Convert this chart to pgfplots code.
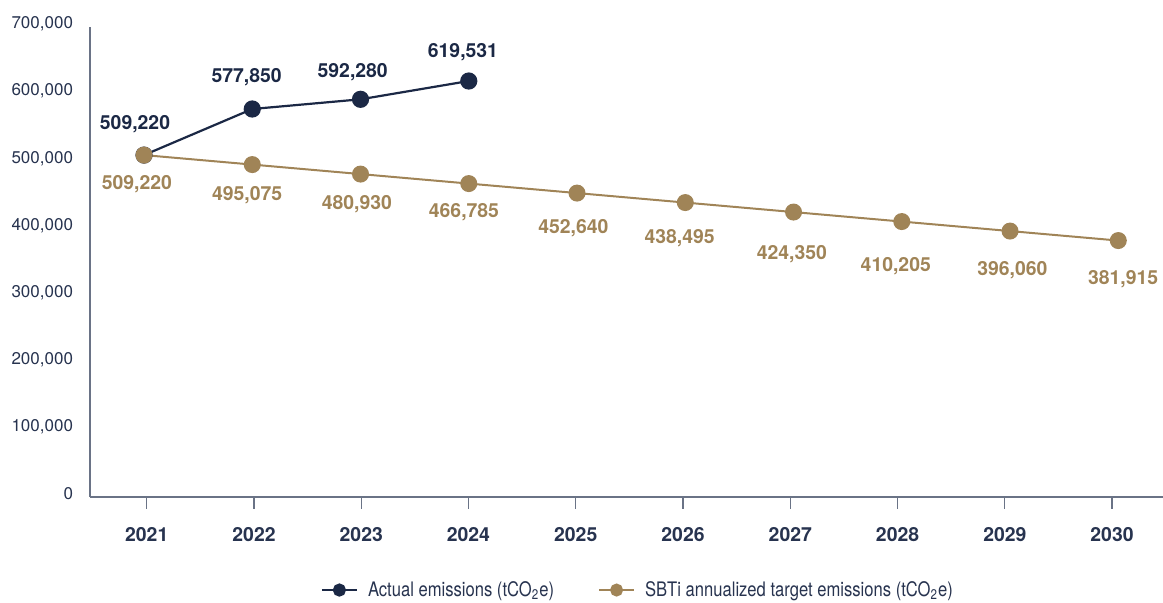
\documentclass[border=0pt]{standalone}
\usepackage{fontspec}
\setmainfont{TeX Gyre Heros}
\newfontfamily\legfont[FakeStretch=0.83]{TeX Gyre Heros}
\usepackage{pgfplots}
\pgfplotsset{compat=1.18}
\definecolor{navy}{HTML}{1B2845}
\definecolor{gold}{HTML}{A08457}
\definecolor{axisgray}{HTML}{6A7386}
\definecolor{ticktext}{HTML}{27334F}
\begin{document}
\begin{tikzpicture}
\useasboundingbox (0,0) rectangle (581.5pt,301.5pt);
\begin{axis}[
  at={(45pt,53pt)}, anchor=south west,
  scale only axis, width=536.5pt, height=235pt,
  xmin=2020.501, xmax=2030.413, ymin=0, ymax=700000,
  clip=false,
  axis x line=bottom, axis y line=left,
  axis line style={-, axisgray, line width=0.6pt},
  xtick={2021.025,2022.016,2023.007,2023.997,2024.988,2025.979,2026.970,2027.961,2028.952,2029.942},
  xticklabels={2021,2022,2023,2024,2025,2026,2027,2028,2029,2030},
  tick align=outside,
  xtick style={axisgray, line width=0.6pt},
  major tick length=6pt,
  x tick label style={font=\fontsize{9.7}{11}\selectfont\bfseries, text=ticktext, yshift=-5.5pt},
  ytick={0,100000,200000,300000,400000,500000,600000,700000},
  ytick style={draw=none},
  scaled y ticks=false,
  y tick label style={/pgf/number format/fixed, /pgf/number format/1000 sep={,}, /pgf/number format/assume math mode=true, font=\fontsize{8.5}{10}\selectfont, text=ticktext, xshift=1pt, yshift=1.5pt},
  legend style={at={(0.5115,-0.198)}, anchor=center, draw=none, fill=none, legend columns=2, font=\legfont\fontsize{10}{12}\selectfont, text=ticktext, /tikz/every even column/.append style={column sep=20pt}},
  legend cell align=left,
  legend image code/.code={\draw[#1, mark size=2.75pt, mark repeat=2, mark phase=2] plot coordinates {(0pt,0pt) (8.75pt,0pt) (17.5pt,0pt)}; \path (20.5pt,0pt);},
]
\addplot[navy, line width=1.1pt, mark=*, mark size=3.75pt, mark options={fill=navy, draw=navy},
  nodes near coords, point meta=explicit symbolic, nodes near coords align={center},
  visualization depends on={\thisrow{dx} \as \dx},
  visualization depends on={\thisrow{dy} \as \dy},
  every node near coord/.append style={anchor=center, xshift=\dx pt, yshift=\dy pt, font=\fontsize{9.7}{11}\selectfont\bfseries, text=navy}]
table[x=x, y=y, meta=label] {
x y label dx dy
2021 509220 509,220 -4.5 15.5
2022 577850 577,850 -2.8 15.8
2023 592280 592,280 -3.9 13.7
2024 619531 619,531 -2.9 14.5
};
\addlegendentry{Actual emissions (tCO\textsubscript{2}e)}
\addplot[gold, line width=1pt, mark=*, mark size=3.75pt, mark options={fill=gold, draw=gold},
  nodes near coords, point meta=explicit symbolic, nodes near coords align={center},
  visualization depends on={\thisrow{dx} \as \dx},
  visualization depends on={\thisrow{dy} \as \dy},
  every node near coord/.append style={anchor=center, xshift=\dx pt, yshift=\dy pt, font=\fontsize{9.7}{11}\selectfont\bfseries, text=gold}]
table[x=x, y=y, meta=label] {
x y label dx dy
2021 509220 509,220 -3.6 -14.3
2022 495075 495,075 -2.6 -15.5
2023 480930 480,930 -1.8 -15.0
2024 466785 466,785 -2.4 -14.2
2025 452640 452,640 -1.8 -17.5
2026 438495 438,495 -2.8 -17.8
2027 424350 424,350 -0.8 -21.2
2028 410205 410,205 -3.0 -22.2
2029 396060 396,060 1.2 -19.5
2030 381915 381,915 2.4 -19.2
};
\addlegendentry{SBTi annualized target emissions (tCO\textsubscript{2}e)}
\end{axis}
\end{tikzpicture}
\end{document}
